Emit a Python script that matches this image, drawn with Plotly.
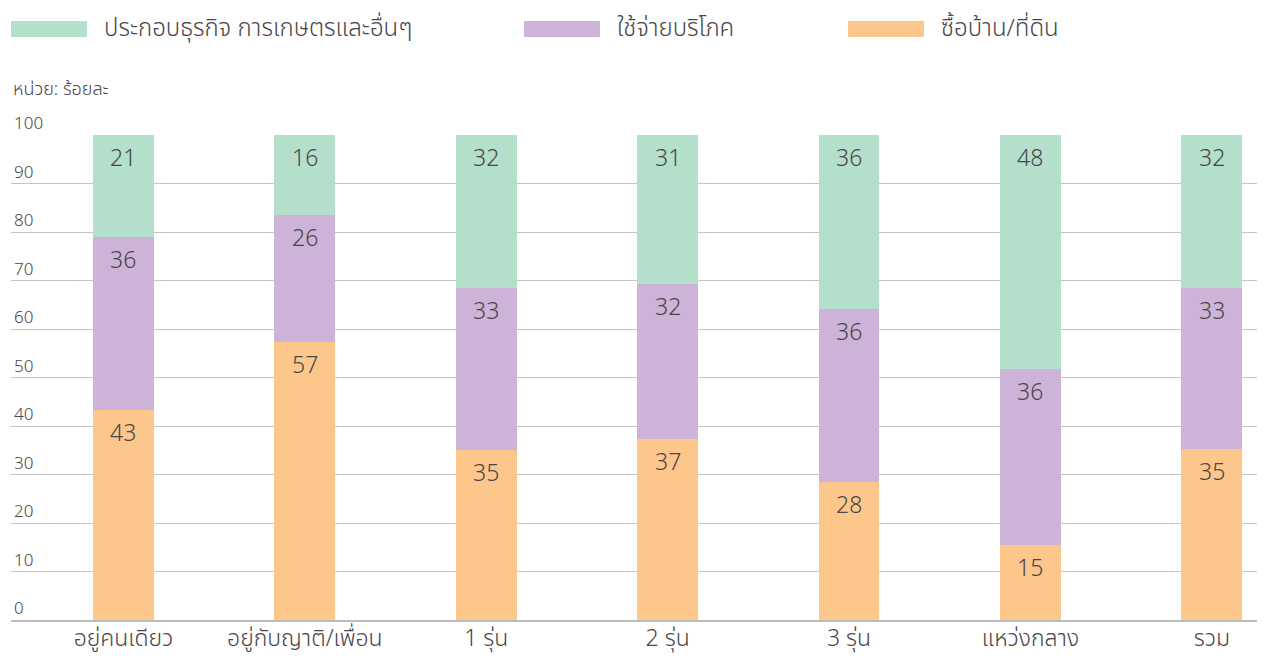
import plotly.graph_objects as go

categories = ["อยู่คนเดียว", "อยู่กับญาติ/เพื่อน", "1 รุ่น", "2 รุ่น", "3 รุ่น", "แหว่งกลาง", "รวม"]
series_names = ["ประกอบธุรกิจ การเกษตรและอื่นๆ", "ใช้จ่ายบริโภค", "ซื้อบ้าน/ที่ดิน"]
house_land = [43.4, 57.4, 35.0, 37.4, 28.4, 15.4, 35.3]
consumption = [35.6, 26.2, 33.4, 31.9, 35.8, 36.4, 33.1]
business = [21.0, 16.4, 31.6, 30.7, 35.8, 48.2, 31.6]
y_ticks = [0, 10, 20, 30, 40, 50, 60, 70, 80, 90, 100]

colors = {"business": "#b3dfcb", "consumption": "#cdb3d7", "house": "#fdc68b"}
text_color = "#4a4548"
FONT = "Noto Sans Thai, Noto Sans, Roboto, sans-serif"

# figure geometry (page body has an 8px margin)
FIG_W, FIG_H = 1257, 650
M_L, M_R, M_T, M_B = 3, 0, 127, 38
PW = FIG_W - M_L - M_R
PH = FIG_H - M_T - M_B


def px(x):
    return (x - M_L) / PW


def py(y):
    return 1 + (M_T - y) / PH


fig = go.Figure()
stack = [("house", series_names[2], house_land),
         ("consumption", series_names[1], consumption),
         ("business", series_names[0], business)]
for key, name, vals in stack:
    fig.add_trace(go.Bar(x=categories, y=vals, name=name, marker_color=colors[key],
                         marker_line_width=0, width=0.335, showlegend=False,
                         hoverinfo="skip"))

# value labels at top of each segment
base = [0] * len(categories)
for key, name, vals in stack:
    for i, c in enumerate(categories):
        top = base[i] + vals[i]
        fig.add_annotation(x=c, y=top, text=f"{round(vals[i])}", showarrow=False,
                           yanchor="top", yshift=-5,
                           font=dict(family=FONT, size=23, color=text_color, weight=300))
        base[i] = top

# manual legend (wide swatches)
legend_items = [(series_names[0], colors["business"], 3),
                (series_names[1], colors["consumption"], 516),
                (series_names[2], colors["house"], 840)]
for name, col, x0 in legend_items:
    fig.add_shape(type="rect", xref="paper", yref="paper",
                  x0=px(x0), x1=px(x0 + 76), y0=py(29), y1=py(13),
                  fillcolor=col, line_width=0)
    fig.add_annotation(xref="paper", yref="paper", x=px(x0 + 91), y=py(21),
                       text=name, showarrow=False, xanchor="left", yanchor="middle",
                       font=dict(family=FONT, size=24, color=text_color, weight=300))

fig.add_annotation(xref="paper", yref="paper", x=0, y=py(82),
                   text="หน่วย: ร้อยละ", showarrow=False, xanchor="left", yanchor="middle",
                   font=dict(family=FONT, size=18, color=text_color, weight=300))

fig.update_layout(
    barmode="stack",
    width=FIG_W, height=FIG_H,
    margin=dict(l=M_L, r=M_R, t=M_T, b=M_B, autoexpand=False),
    plot_bgcolor="white", paper_bgcolor="white",
    showlegend=False,
    xaxis=dict(range=[-0.620, 6.293], showgrid=False, showline=True,
               linecolor="#bdbdbd", linewidth=1.5, ticks="", automargin=False,
               ticklabelstandoff=-3,
               tickfont=dict(family=FONT, size=23, color=text_color, weight=300)),
    yaxis=dict(range=[0, 100], tickvals=y_ticks, showgrid=True, gridcolor="#c4c4c4",
               gridwidth=1.2, zeroline=False, ticks="", automargin=False,
               ticklabelposition="inside top", ticklabeloverflow="allow",
               tickfont=dict(family=FONT, size=17, color=text_color, weight=300)),
)

fig.write_html("out.html")
